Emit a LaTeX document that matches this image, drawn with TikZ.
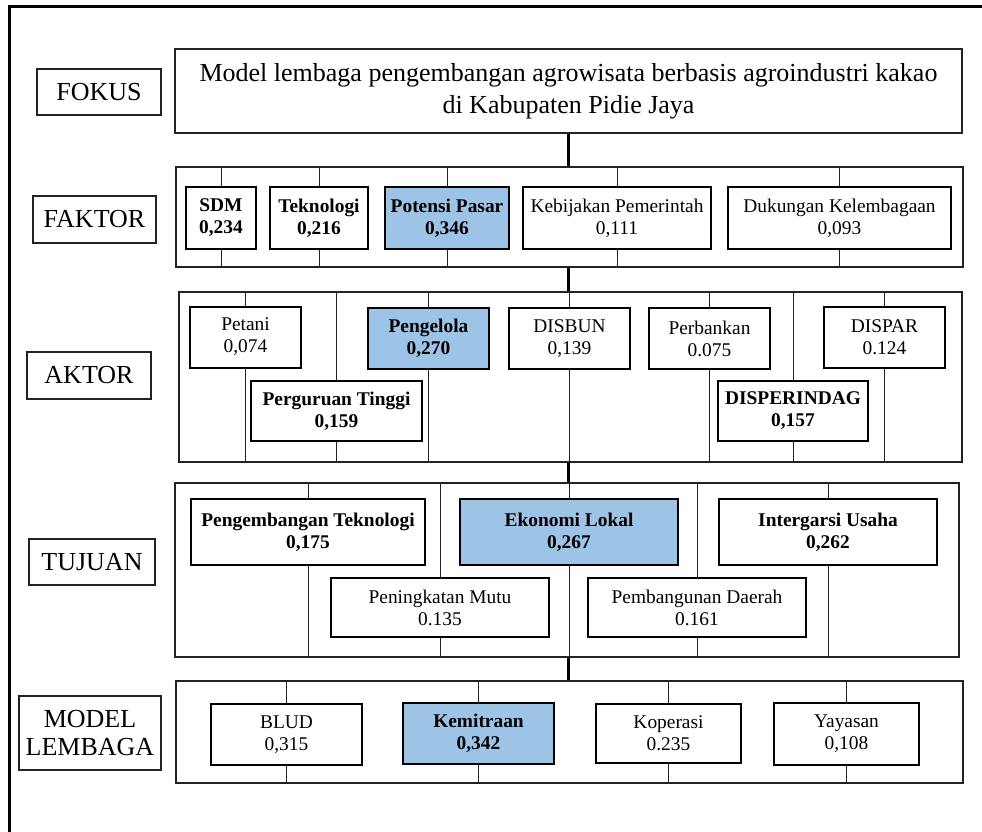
\documentclass[tikz,border=0pt]{standalone}
\usepackage{fontspec}
\setmainfont{Liberation Serif}
\usepackage{tikz}
\usetikzlibrary{arrows.meta}

\definecolor{bestBlue}{HTML}{9DC3E6}
\definecolor{edgeGray}{HTML}{222222}

\tikzset{
    level/.style={draw=edgeGray, line width=1.6pt, align=center, inner sep=0pt,
        font=\fontsize{26}{28}\selectfont},
    group/.style={draw=edgeGray, line width=1.8pt, inner sep=0pt},
    item/.style={draw=black, line width=2pt, fill=white, align=center, inner sep=0pt,
        font=\fontsize{19.4}{22}\selectfont},
    itemBold/.style={item, font=\fontsize{19.4}{22}\selectfont\bfseries},
    itemBest/.style={itemBold, fill=bestBlue},
    tie/.style={draw=edgeGray, line width=0.9pt},
    spine/.style={draw=black, line width=3.2pt},
    box/.style 2 args={minimum width=#1, minimum height=#2},
}

\begin{document}
\begin{tikzpicture}[x=1pt, y=-1pt]
    \useasboundingbox (0,0) rectangle (982,832);
    % 外框只画上边和左边
    \coordinate (frameTR) at (982,7);
    \coordinate (frameTL) at (9,7);
    \coordinate (frameBL) at (9,832);
    \draw[line width=3pt] (frameTR) -- (frameTL) -- (frameBL);

    % 左侧层级标签
    \node[level, box={124pt}{46pt}] (lFokus) at (99,92) {FOKUS};
    \node[level, box={123pt}{47pt}] (lFaktor) at (94.5,219.5) {FAKTOR};
    \node[level, box={124pt}{47pt}] (lAktor) at (89,375.5) {AKTOR};
    \node[level, box={126pt}{46pt}] (lTujuan) at (92,562) {TUJUAN};
    \node[level, box={142pt}{74pt}] (lModel) at (90,733) {MODEL\\LEMBAGA};

    % 焦点与各层外框
    \node[level, font=\fontsize{26}{32}\selectfont, box={787pt}{84pt}] (fokus) at (568.5,91)
        {Model lembaga pengembangan agrowisata berbasis agroindustri kakao\\di Kabupaten Pidie Jaya};
    \node[group, box={787pt}{100pt}] (faktor) at (569.5,217) {};
    \node[group, box={783pt}{170pt}] (aktor) at (570.5,377) {};
    \node[group, box={784pt}{174pt}] (tujuan) at (567,570) {};
    \node[group, box={787pt}{102pt}] (model) at (569.5,732) {};

    % 粗竖线连接各层
    \draw[spine] (fokus.south) -- (fokus.south |- faktor.north);
    \draw[spine] (fokus.south |- faktor.south) -- (fokus.south |- aktor.north);
    \draw[spine] (fokus.south |- aktor.south) -- (fokus.south |- tujuan.north);
    \draw[spine] (fokus.south |- tujuan.south) -- (fokus.south |- model.north);

    % FAKTOR
    \node[itemBold, box={70pt}{62pt}] (sdm) at (221,218) {SDM\\0,234};
    \node[itemBold, box={98pt}{62pt}] (tek) at (319,218) {Teknologi\\0,216};
    \node[itemBest, box={124pt}{62pt}] (pasar) at (447,218) {Potensi Pasar\\0,346};
    \node[item, box={188pt}{62pt}] (kebijakan) at (617,218) {Kebijakan Pemerintah\\0,111};
    \node[item, box={223pt}{62pt}] (dukungan) at (839.5,218) {Dukungan Kelembagaan\\0,093};

    % AKTOR
    \node[item, box={111pt}{61pt}] (petani) at (245.5,337) {Petani\\0,074};
    \node[itemBest, box={121pt}{61pt}] (pengelola) at (428.5,338.5) {Pengelola\\0,270};
    \node[item, box={121pt}{61pt}] (disbun) at (569.5,338.5) {DISBUN\\0,139};
    \node[item, box={121pt}{61pt}] (bank) at (709.5,338.5) {Perbankan\\0.075};
    \node[item, box={121pt}{61pt}] (dispar) at (884.5,337.5) {DISPAR\\0.124};
    \node[itemBold, box={171pt}{60pt}] (pt) at (336.5,411) {Perguruan Tinggi\\0,159};
    \node[itemBold, box={150pt}{60pt}] (disperindag) at (793,411) {DISPERINDAG\\0,157};

    % TUJUAN
    \node[itemBold, box={234pt}{66pt}] (pengtek) at (308,532) {Pengembangan Teknologi\\0,175};
    \node[itemBest, box={218pt}{66pt}] (ekonomi) at (569,532) {Ekonomi Lokal\\0,267};
    \node[itemBold, box={218pt}{66pt}] (usaha) at (828,532) {Intergarsi Usaha\\0,262};
    \node[item, box={218pt}{59pt}] (mutu) at (440,607.5) {Peningkatan Mutu\\0.135};
    \node[item, box={218pt}{59pt}] (daerah) at (697,607.5) {Pembangunan Daerah\\0.161};

    % MODEL LEMBAGA
    \node[item, box={151pt}{61pt}] (blud) at (286.5,734.5) {BLUD\\0,315};
    \node[itemBest, box={151pt}{61pt}] (mitra) at (478.5,733.5) {Kemitraan\\0,342};
    \node[item, box={145pt}{59pt}] (koperasi) at (668.5,733.5) {Koperasi\\0.235};
    \node[item, box={145pt}{62pt}] (yayasan) at (846.5,734) {Yayasan\\0,108};

    % 每个元素上下接到所在外框
    \foreach \nm/\grp in {sdm/faktor, tek/faktor, pasar/faktor, kebijakan/faktor, dukungan/faktor,
        petani/aktor, pengelola/aktor, disbun/aktor, bank/aktor, dispar/aktor, pt/aktor, disperindag/aktor,
        pengtek/tujuan, ekonomi/tujuan, usaha/tujuan, mutu/tujuan, daerah/tujuan,
        blud/model, mitra/model, koperasi/model, yayasan/model}{
            \draw[tie] (\nm.north) -- (\nm.north |- \grp.north);
            \draw[tie] (\nm.south) -- (\nm.south |- \grp.south);
        }
\end{tikzpicture}
\end{document}
